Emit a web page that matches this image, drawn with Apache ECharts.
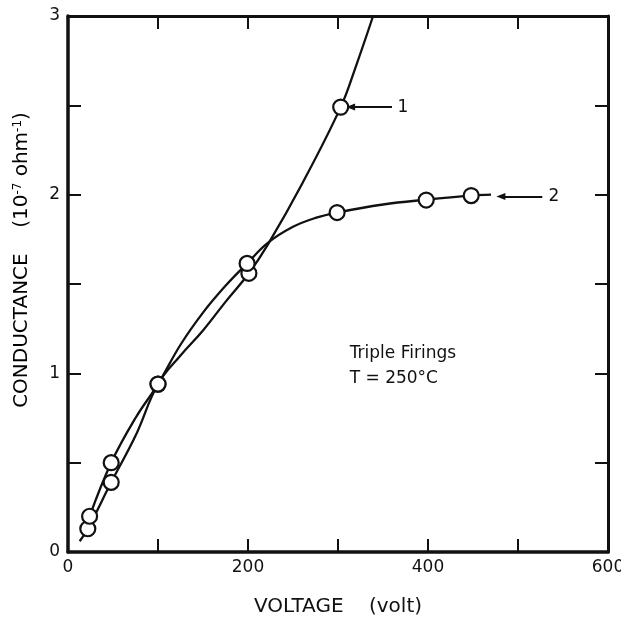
<!DOCTYPE html>
<html><head><meta charset="utf-8">
<script src="https://cdn.jsdelivr.net/npm/echarts@6/dist/echarts.min.js"></script>
<style>html,body{margin:0;padding:0;background:#fff}#c{width:621px;height:620px}</style>
</head><body><div id="c"></div>
<script>
// ---- data ----
const xLabelValues = [0, 200, 400, 600];
const yLabelValues = [0, 1, 2, 3];
const curve1Markers = [[22, 0.13], [48, 0.39], [100, 0.94], [201, 1.56], [303, 2.49]];
const curve2Markers = [[24, 0.2], [48, 0.5], [100, 0.94], [199, 1.615], [299, 1.9], [398, 1.97], [448, 1.995]];
const curve1Path = [[13, 0.06], [22, 0.13], [48, 0.39], [75, 0.65], [100, 0.94], [125, 1.1], [150, 1.24], [175, 1.4], [201, 1.56], [222, 1.72], [260, 2.06], [303, 2.49], [320, 2.72], [339, 3.0]];
const curve2Path = [[24, 0.2], [48, 0.5], [75, 0.75], [100, 0.94], [125, 1.16], [150, 1.34], [175, 1.49], [199, 1.615], [222, 1.73], [250, 1.82], [275, 1.87], [299, 1.9], [350, 1.945], [398, 1.972], [448, 1.995], [470, 2.0]];
const arrow1 = [[360, 2.49], [314, 2.49]];
const arrow2 = [[527, 1.99], [481, 1.99]];
const label1 = [366, 2.49];
const label2 = [534, 1.99];
const noteLines = ['Triple Firings', 'T = 250°C'];
const notePos = [[313, 1.11], [313, 0.97]];

const INK = '#111';
const FONT = '"DejaVu Sans", "Liberation Sans", Arial, sans-serif';

const chart = echarts.init(document.getElementById('c'), null, {renderer: 'canvas'});

function axis(extra, w) {
  return Object.assign({
    type: 'value',
    axisLine: {show: true, onZero: false, lineStyle: {color: INK, width: w}},
    axisTick: {show: true, inside: true, length: 13, lineStyle: {color: INK, width: 2}},
    splitLine: {show: false},
    minorTick: {show: false}
  }, extra);
}

const option = {
  animation: false,
  backgroundColor: '#fff',
  grid: {left: 68, right: 13, top: 16, bottom: 68, containLabel: false, outerBoundsMode: 'none'},
  xAxis: [
    axis({
      position: 'bottom', min: 0, max: 600, interval: 100,
      axisLabel: {show: true, color: INK, fontSize: 17, fontFamily: FONT, margin: 7,
        formatter: v => xLabelValues.includes(v) ? String(v) : ''},
      name: 'VOLTAGE    (volt)', nameLocation: 'middle', nameGap: 45,
      nameTextStyle: {color: INK, fontSize: 20, fontFamily: FONT}
    }, 3.5),
    axis({position: 'top', min: 0, max: 600, interval: 100, axisLabel: {show: false}}, 3)
  ],
  yAxis: [
    axis({
      position: 'left', min: 0, max: 3, interval: 0.5,
      axisLabel: {show: true, color: INK, fontSize: 17, fontFamily: FONT, margin: 8,
        formatter: v => yLabelValues.includes(v) ? String(v) : ''}
    }, 3.5),
    axis({position: 'right', min: 0, max: 3, interval: 0.5, axisLabel: {show: false}}, 3)
  ],
  graphic: [{
    type: 'text', x: 22, y: 260, rotation: Math.PI / 2,
    style: {
      text: '{a|CONDUCTANCE    (10}{s|-7}{a| ohm}{s|-1}{a|)}',
      align: 'center', verticalAlign: 'middle',
      rich: {
        a: {fontSize: 20, fontFamily: FONT, color: INK},
        s: {fontSize: 12, fontFamily: FONT, color: INK, verticalAlign: 'top', padding: [0, 0, 8, 0]}
      }
    }
  }],
  series: [
    {type: 'line', data: curve1Path, smooth: 0.4, showSymbol: false, symbol: 'none',
      lineStyle: {color: INK, width: 2.3}, z: 2, clip: true},
    {type: 'line', data: curve2Path, smooth: 0.4, showSymbol: false, symbol: 'none',
      lineStyle: {color: INK, width: 2.3}, z: 2, clip: true},
    {type: 'scatter', data: curve1Markers.concat(curve2Markers), symbol: 'circle', symbolSize: 15,
      itemStyle: {color: '#fff', borderColor: INK, borderWidth: 2.2, opacity: 1}, z: 5},
    {type: 'line', data: [], symbol: 'none',
      markLine: {silent: true, symbol: ['none', 'triangle'], symbolSize: [7, 9],
        lineStyle: {color: INK, width: 2, type: 'solid', opacity: 1}, label: {show: false},
        data: [
          [{coord: arrow1[0]}, {coord: arrow1[1]}],
          [{coord: arrow2[0]}, {coord: arrow2[1]}]
        ]}},
    {type: 'scatter', symbolSize: 0, silent: true, itemStyle: {opacity: 1},
      data: [
        {value: label1, label: {formatter: '1'}},
        {value: label2, label: {formatter: '2'}},
        {value: notePos[0], label: {formatter: noteLines[0]}},
        {value: notePos[1], label: {formatter: noteLines[1]}}
      ],
      label: {show: true, position: 'inside', color: INK, fontSize: 17, fontFamily: FONT, align: 'left', verticalAlign: 'middle', opacity: 1},
      z: 6}
  ]
};
chart.setOption(option);
</script></body></html>
